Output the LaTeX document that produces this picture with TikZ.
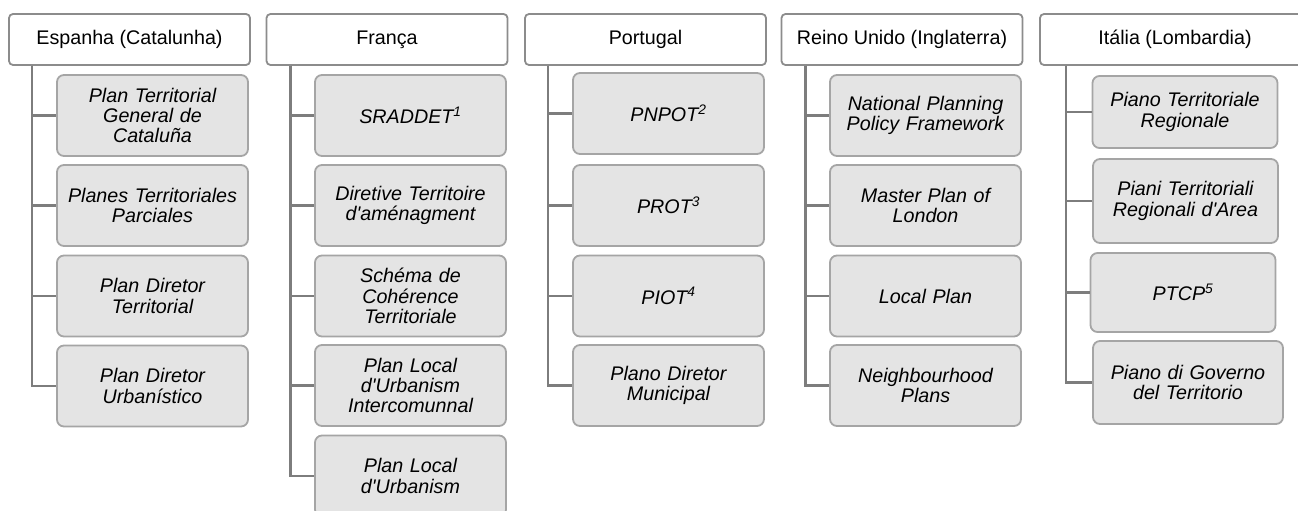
\documentclass[tikz,border=0pt]{standalone}
\usepackage{fontspec}
\setmainfont{Liberation Sans}
\usepackage{tikz}
\usetikzlibrary{positioning}
\definecolor{headline}{RGB}{140,140,140}
\definecolor{boxline}{RGB}{165,165,165}
\definecolor{boxfill}{RGB}{228,228,228}
\definecolor{linkgray}{RGB}{125,125,125}
\newcommand{\apo}{\textquotesingle}

\tikzset{
  country/.style={draw=headline,fill=white,line width=1.8pt,rounded corners=4pt,
    minimum width=241pt,minimum height=51pt,inner sep=0pt,
    font=\fontsize{19.7}{20.5}\selectfont},
  plan/.style={draw=boxline,fill=boxfill,line width=1.8pt,rounded corners=7pt,
    minimum width=191pt,minimum height=81pt,inner sep=0pt,text width=185pt,align=center,
    font=\fontsize{19.7}{20.3}\selectfont\itshape},
  branch/.style={draw=linkgray,line width=2.5pt}
}

\begin{document}
\begin{tikzpicture}[x=1pt,y=-1pt]
\useasboundingbox (0,0) rectangle (1298,511);

% Espanha
\node[country] (esp) at (129.5,39.5) {Espanha (Catalunha)};
\node[plan] (esp1) at (152.5,115.5) {Plan Territorial\\General de\\Cataluña};
\node[plan] (esp2) at (152.5,205.5) {Planes Territoriales\\Parciales};
\node[plan] (esp3) at (152.5,296) {Plan Diretor\\Territorial};
\node[plan] (esp4) at (152.5,386) {Plan Diretor\\Urbanístico};
\foreach \i in {1,...,4}
  \draw[branch] ([xshift=24pt]esp.south west) |- (esp\i.west);

% França
\node[country] (fra) at (387,39.5) {França};
\node[plan] (fra1) at (410.5,115.5) {SRADDET\textsuperscript{1}};
\node[plan] (fra2) at (410.5,205.5) {Diretive Territoire\\d\apo aménagment};
\node[plan] (fra3) at (410.5,296) {Schéma de\\Cohérence\\Territoriale};
\node[plan] (fra4) at (410.5,385.5) {Plan Local\\d\apo Urbanism\\Intercomunnal};
\node[plan] (fra5) at (410.5,476) {Plan Local\\d\apo Urbanism};
\foreach \i in {1,...,5}
  \draw[branch] ([xshift=25pt]fra.south west) |- (fra\i.west);

% Portugal
\node[country] (por) at (645.5,39.5) {Portugal};
\node[plan] (por1) at (668.5,113.5) {PNPOT\textsuperscript{2}};
\node[plan] (por2) at (668.5,205.5) {PROT\textsuperscript{3}};
\node[plan] (por3) at (668.5,296) {PIOT\textsuperscript{4}};
\node[plan] (por4) at (668.5,385.5) {Plano Diretor\\Municipal};
\foreach \i in {1,...,4}
  \draw[branch] ([xshift=24pt]por.south west) |- (por\i.west);

% Reino Unido
\node[country] (ruk) at (902,39.5) {Reino Unido (Inglaterra)};
\node[plan] (ruk1) at (925.5,115.5) {National Planning\\Policy Framework};
\node[plan] (ruk2) at (925.5,205.5) {Master Plan of\\London};
\node[plan] (ruk3) at (925.5,296) {Local Plan};
\node[plan] (ruk4) at (925.5,385.5) {Neighbourhood\\Plans};
\foreach \i in {1,...,4}
  \draw[branch] ([xshift=25pt]ruk.south west) |- (ruk\i.west);

% Itália
\node[country,minimum width=280pt] (ita) at (1180,39.5) {\hspace*{-10pt}Itália (Lombardia)};
\node[plan,minimum width=184pt,minimum height=72pt] (ita1) at (1185,112) {Piano Territoriale\\Regionale};
\node[plan,minimum width=185pt,minimum height=84pt] (ita2) at (1185.5,201) {Piani Territoriali\\Regionali d\apo Area};
\node[plan,minimum width=180pt,minimum height=79pt] (ita3) at (1183,292.5) {PTCP\textsuperscript{5}};
\node[plan,minimum width=190pt,minimum height=83pt] (ita4) at (1188,382.5) {Piano di Governo\\del Territorio};
\foreach \i in {1,...,4}
  \draw[branch] ([xshift=27pt]ita.south west) |- (ita\i.west);
\end{tikzpicture}
\end{document}
